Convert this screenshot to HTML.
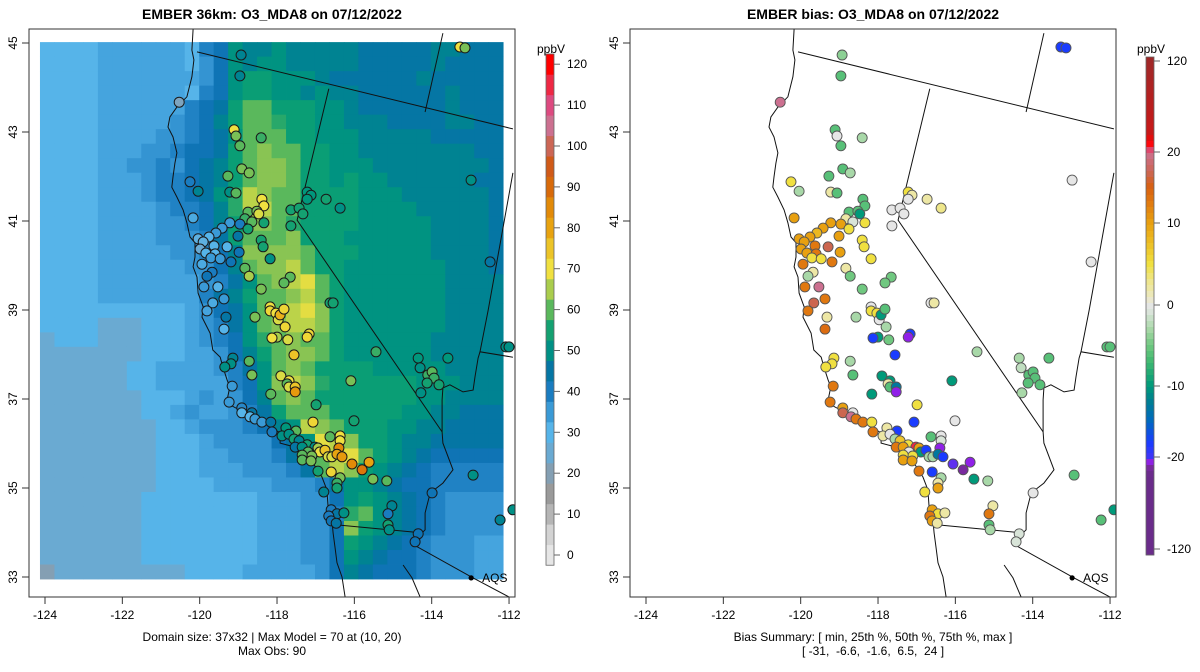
<!DOCTYPE html>
<html><head><meta charset="utf-8">
<style>
html,body{margin:0;padding:0;background:#fff;}
svg{display:block;font-family:"Liberation Sans",Arial,sans-serif;}
</style></head>
<body>
<svg id="fig" width="1200" height="672" viewBox="0 0 1200 672" xmlns="http://www.w3.org/2000/svg">
<defs>
<clipPath id="clipL"><rect x="29" y="29" width="486" height="568"/></clipPath>
<clipPath id="clipR"><rect x="630" y="29" width="486" height="568"/></clipPath>
</defs>
<text x="272" y="19" text-anchor="middle" font-size="14" font-weight="bold">EMBER 36km: O3_MDA8 on 07/12/2022</text>
<text x="873" y="19" text-anchor="middle" font-size="14" font-weight="bold">EMBER bias: O3_MDA8 on 07/12/2022</text>
<text x="272" y="641" text-anchor="middle" font-size="12">Domain size: 37x32 | Max Model = 70 at (10, 20)</text>
<text x="272" y="655" text-anchor="middle" font-size="12">Max Obs: 90</text>
<text x="873" y="641" text-anchor="middle" font-size="12">Bias Summary: [ min, 25th %, 50th %, 75th %, max ]</text>
<text x="873" y="655" text-anchor="middle" font-size="12" xml:space="preserve">[ -31,  -6.6,  -1.6,  6.5,  24 ]</text>
<text x="551" y="53" text-anchor="middle" font-size="12">ppbV</text>
<text x="1151" y="53" text-anchor="middle" font-size="12">ppbV</text>
<g id="layer"></g>
</svg>
<script>
// ---------- data ----------
const gridLon0 = -124.13, gridLat0 = 45.02, cellDLon = 0.3743, cellDLat = 0.3261;
const levelCodes = "1g23456789ABCDEF";
const levelValues = [20,25,30,33,36,39,42,45,48,51,54,57,60,63,66,69];
const gridRows = [
"22223333332569889888887777788777",
"22223333332469899888887777787777",
"22223333333469AA9998777777877777",
"22223333332569AA9989887777778777",
"2222333333567ACCAAA9987777778777",
"2222333334568ACCBAA9988877778877",
"22223333445679CCCAA9998888877777",
"2222333445667ACDCCAA998888888877",
"2222334454678ACDDCAA999888888887",
"2222333455678ACDDCAA9A9988888877",
"2222333455679BEDCCAAAA9998888887",
"2222333345568BEECCAAAA9999888887",
"2222333344568ADDCBAAAA9999988887",
"2222333344457ACCCDAAA99999988887",
"22223333344568DDDDCAAA9999988887",
"22223333334468CDDECAA99999998887",
"222233333334579CDEFCA99999998888",
"22223333333578ACCDECA99999998888",
"222222222234679CCEFDA99999998888",
"2222ggg22234579CDEEDA99999998888",
"g222ggg22234569BCDCCA99999988888",
"ggggggg22233468ACDDCA99999988888",
"gggggg2233334579CDCAAAA999998888",
"gggggg2233333569DEDBAAAAAA999888",
"ggggggg222343468CDCAAAAAAA998888",
"ggggggg223433457ACCCAAAAA9988777",
"gggggggg2234445689EDCAAA99887777",
"gggggggg22234444679FEDAA98877777",
"gggggggg22233444579CEFCA98766666",
"gggggggg22233344457CEDA987655555",
"gggggggg222233334445799876655555",
"ggggggg222222223334469A987654444",
"ggggggg22222222333445BC987654444",
"ggggggg22222222333446DA987654444",
"ggggggg22222222333446A9876544433",
"ggggggg2222222233344698766544433",
"1ggggggggg2222333334687666544433"
];
const stLon = [-118.93,-118.96,-120.53,-119.11,-119.06,-118.96,-118.41,-118.91,-118.72,-119.27,-120.25,-120.04,-119.22,-119.06,-118.39,-118.34,-117.22,-117.12,-117.22,-116.73,-116.37,-117.64,-117.43,-117.33,-117.64,-118.75,-118.52,-118.47,-118.83,-118.65,-118.34,-120.17,-119.22,-118.96,-119.42,-119.58,-119.76,-120.04,-119.91,-118.75,-119.01,-118.41,-118.36,-119.29,-119.63,-119.99,-119.84,-119.60,-119.71,-119.47,-118.98,-119.94,-119.19,-118.18,-118.83,-118.72,-119.68,-119.81,-117.66,-117.82,-119.89,-119.53,-118.41,-119.37,-119.66,-119.81,-119.32,-118.57,-118.18,-118.18,-118.03,-117.97,-117.92,-117.82,-117.79,-119.37,-116.63,-116.55,-117.17,-117.22,-118.00,-118.13,-117.72,-117.56,-118.72,-115.44,-119.14,-119.19,-119.35,-118.65,-117.90,-117.69,-117.74,-117.69,-117.53,-117.53,-116.09,-118.16,-119.16,-119.24,-116.99,-118.91,-118.65,-118.91,-118.70,-118.57,-118.39,-118.16,-117.07,-116.01,-118.13,-117.77,-117.51,-117.87,-117.69,-117.56,-117.43,-117.22,-116.63,-116.37,-116.37,-117.53,-117.35,-117.02,-116.94,-117.20,-116.89,-116.76,-116.40,-117.10,-117.35,-116.68,-116.58,-116.45,-116.32,-117.35,-117.12,-116.06,-115.80,-115.62,-116.94,-116.60,-116.37,-116.45,-116.45,-115.52,-115.16,-116.79,-115.03,-115.13,-116.60,-116.45,-116.27,-116.66,-116.60,-116.47,-115.13,-115.10,-113.27,-113.14,-112.98,-112.49,-114.35,-114.30,-114.10,-113.99,-113.94,-114.12,-113.81,-114.28,-113.58,-113.99,-114.35,-114.43,-112.93,-112.23,-112.08,-112.00,-111.90];
const stLat = [44.73,44.26,43.67,43.05,42.91,42.69,42.87,42.17,42.08,42.01,41.88,41.67,41.65,41.63,41.49,41.34,41.65,41.58,41.49,41.49,41.29,41.25,41.29,41.16,40.89,41.20,41.22,41.16,41.05,40.98,40.96,41.07,40.96,40.93,40.84,40.73,40.64,40.60,40.53,40.82,40.66,40.57,40.42,40.42,40.44,40.37,40.28,40.26,40.17,40.15,40.30,40.03,40.08,40.15,39.94,39.76,39.85,39.76,39.74,39.61,39.52,39.52,39.47,39.25,39.16,38.98,38.84,38.84,39.07,38.98,38.93,38.78,38.89,39.02,38.62,38.57,39.16,39.16,38.46,38.39,38.39,38.37,38.33,37.99,37.85,38.06,37.92,37.79,37.72,37.54,37.52,37.41,37.34,37.27,37.27,37.16,37.41,37.11,37.29,36.93,36.87,36.80,36.69,36.69,36.60,36.55,36.48,36.48,36.48,36.51,36.26,36.35,36.28,36.17,36.21,36.10,36.06,35.97,36.15,36.17,36.06,35.92,35.92,35.92,35.90,35.81,35.81,35.85,35.90,35.72,35.74,35.70,35.70,35.76,35.70,35.63,35.61,35.54,35.41,35.58,35.38,35.36,35.23,35.11,35.00,35.20,35.16,34.91,34.60,34.42,34.51,34.42,34.44,34.37,34.26,34.21,34.17,34.06,44.91,44.89,41.92,40.08,37.92,37.70,37.54,37.61,37.47,37.36,37.32,37.14,37.92,34.89,33.97,33.79,35.29,34.28,38.17,38.17,34.51];
const stObs = [48,48,22,70,62,60,58,62,62,60,40,48,50,60,70,70,52,52,52,55,50,55,55,55,55,60,62,68,58,60,55,32,35,40,35,35,30,28,28,55,45,55,55,30,30,25,30,30,35,35,42,32,42,50,60,65,40,42,60,60,35,30,62,35,32,33,45,62,70,72,70,68,78,72,72,30,55,55,72,72,65,70,68,75,60,58,48,50,50,62,68,70,60,68,75,82,62,60,35,35,55,38,45,30,30,35,35,45,72,55,40,52,60,50,50,55,48,55,60,70,70,45,50,50,65,60,70,75,85,62,60,68,68,80,82,60,62,85,88,80,55,72,62,58,55,62,60,48,48,40,40,45,50,40,42,45,55,50,70,62,50,45,52,50,58,60,58,55,55,50,52,42,42,42,50,48,50,50,50];
const stBias = [-4,-6,20,-6,0,-6,-3,-6,-3,-6,5,-3,2,-6,-6,-6,5,2,0,2,3,0,0,0,0,-6,-6,-10,2,-1,5,10,10,10,10,8,10,10,10,5,10,5,5,17,13,10,10,13,5,5,10,13,13,5,2,-5,2,-3,-5,-5,13,20,-5,13,17,13,2,-3,0,5,5,0,-10,-6,-3,14,0,2,-18,-25,-10,-18,-5,-18,-3,-3,5,5,5,-6,-10,-10,2,-6,-13,-25,-10,-10,13,13,5,10,0,17,20,13,13,5,-18,0,13,2,-18,2,0,-3,7,5,-6,0,-1,13,10,24,10,0,-10,-18,-25,5,5,-3,-3,-13,-18,10,10,-22,-31,-25,13,-18,-3,2,10,-10,-3,5,2,13,10,5,2,13,10,2,-6,-3,-18,-18,0,0,-3,-2,-6,-6,-6,-6,-6,-3,-6,0,-1,-1,-6,-6,-6,-6,-10];
const coastLon = [-120.17,-120.20,-120.15,-120.20,-120.33,-120.59,-120.77,-120.82,-120.69,-120.59,-120.64,-120.69,-120.72,-120.59,-120.43,-120.33,-120.25,-120.12,-120.12,-120.17,-120.07,-120.04,-119.91,-119.94,-119.73,-119.66,-119.47,-119.40,-119.29,-119.22,-119.29,-119.22,-118.96,-118.78,-118.36,-117.92,-117.92,-117.53,-117.41,-117.07,-116.84,-116.71,-116.68,-116.58,-116.55,-116.50,-116.45,-116.32,-116.24];
const coastLat = [45.31,44.84,44.62,44.24,43.79,43.56,43.34,43.11,42.89,42.53,42.30,41.99,41.76,41.54,41.25,40.96,40.64,40.51,40.19,39.97,39.74,39.38,39.07,38.84,38.48,38.10,37.94,37.72,37.43,37.27,36.98,36.87,36.75,36.60,36.46,36.24,36.01,35.92,35.79,35.56,35.25,34.96,34.57,34.28,33.99,33.67,33.32,33.00,32.55];
const borderLines = [
 {name:"northern-border", lon:[-120.07,-111.90], lat:[44.80,43.07]},
 {name:"idaho-border", lon:[-113.71,-114.17], lat:[45.22,43.45]},
 {name:"nevada-border", lon:[-116.66,-117.48,-113.73], lat:[43.97,41.02,36.26]},
 {name:"utah-arizona-border", lon:[-111.90,-112.54,-112.75,-111.90], lat:[42.08,39.00,38.06,37.94]},
 {name:"colorado-river", lon:[-112.75,-112.80,-112.88,-112.93,-113.19,-113.53,-113.71,-113.73,-113.73,-113.71,-113.45,-113.71,-114.04,-114.17,-114.17,-114.25,-114.38,-112.93,-111.72], lat:[38.06,37.92,37.50,37.20,37.16,37.32,37.25,36.98,36.26,36.01,35.41,35.11,34.89,34.44,34.06,33.99,33.68,32.98,32.42]},
 {name:"mexico-border", lon:[-116.45,-114.25], lat:[34.17,33.99]},
 {name:"gulf-coast", lon:[-114.74,-114.51,-114.30], lat:[33.27,32.98,32.55]}
];
const aqsLon = -112.98, aqsLat = 32.98;
const xTicks = [-124,-122,-120,-118,-116,-114,-112];
const yTicks = [33,35,37,39,41,43,45];
const obsTicks = [0,10,20,30,40,50,60,70,80,90,100,110,120];
const biasTicks = [120,20,10,0,-10,-20,-120];
const biasTickY = [61,152,223,305,386,457,549];

// ---------- scales ----------
const NS="http://www.w3.org/2000/svg";
const layer=document.getElementById('layer');
function xS(lon,off){return 45+(lon+124)*38.67+off;}
function yS(lat){return 43+(45-lat)*44.5;}
function el(tag,attrs,parent){const e=document.createElementNS(NS,tag);for(const k in attrs)e.setAttribute(k,attrs[k]);(parent||layer).appendChild(e);return e;}
function hex(c){return [parseInt(c.substr(1,2),16),parseInt(c.substr(3,2),16),parseInt(c.substr(5,2),16)];}
function interp(stops,v){
 if(v<=stops[0][0])return stops[0][1];
 if(v>=stops[stops.length-1][0])return stops[stops.length-1][1];
 for(let i=0;i<stops.length-1;i++){const a=stops[i],b=stops[i+1];if(v>=a[0]&&v<=b[0]){const t=(v-a[0])/(b[0]-a[0]);const A=hex(a[1]),B=hex(b[1]);return 'rgb('+A.map((x,j)=>Math.round(x+(B[j]-x)*t)).join(',')+')';}}
}
const obsStops=[[0,'#e6e6e6'],[5,'#d3d3d3'],[10,'#b5b5b5'],[15,'#9a9a9a'],[18,'#8a9aa8'],[22,'#7ea4be'],[25,'#6aaad2'],[30,'#56b4e9'],[35,'#3a9ad6'],[40,'#1a7cc0'],[43,'#0a70b0'],[47,'#007c98'],[50,'#009085'],[53,'#009a78'],[57,'#28a86a'],[60,'#5ab85c'],[64,'#98c850'],[67,'#cdd846'],[70,'#f0e040'],[75,'#ecc428'],[80,'#e8a310'],[85,'#e28a08'],[90,'#d86a0a'],[95,'#d05a18'],[100,'#cc6655'],[105,'#cc7090'],[110,'#dd4a80'],[115,'#ee2844'],[120,'#ff0000']];
const biasStops=[[-40,'#6a2c8a'],[-30,'#7a2aa0'],[-25,'#9020e8'],[-22,'#6030f0'],[-18,'#1a3cff'],[-15,'#0068c0'],[-12,'#008090'],[-10,'#009a7a'],[-7,'#40b870'],[-5,'#70c880'],[-3,'#a8d8a8'],[-1,'#d8e4d8'],[0,'#e6e6e6'],[1,'#ece8c0'],[3,'#eee68a'],[5,'#f0e040'],[8,'#ecb820'],[10,'#e8a010'],[13,'#e07810'],[15,'#d86010'],[17,'#cc6650'],[20,'#cc7090'],[22,'#dd4a70'],[24,'#ee2844'],[30,'#ff0000'],[40,'#c81818'],[120,'#a02828']];
function obsColor(v){return interp(obsStops,v);}
function biasColor(v){return interp(biasStops,v);}

// ---------- grid ----------
const gGrid=el('g',{'clip-path':'url(#clipL)'});


gridRows.forEach((row,r)=>{
 for(let c=0;c<32;c++){
  const ch=row[c]||row[row.length-1];
  const v=levelValues[levelCodes.indexOf(ch)];
  const lon0=gridLon0+c*cellDLon, lat0=gridLat0-r*cellDLat;
  const x0=xS(lon0,0), x1=xS(lon0+cellDLon,0), y0=yS(lat0), y1=yS(lat0-cellDLat);
  const rc=el('rect',{x:x0.toFixed(2),y:y0.toFixed(2),width:(x1-x0+0.4).toFixed(2),height:(y1-y0+0.4).toFixed(2),fill:obsColor(v)},gGrid);
  
  
 }
});

// ---------- maps ----------
function drawMap(off,clip,prefix){
 const g=el('g',{'clip-path':'url(#'+clip+')',fill:'none',stroke:'#111','stroke-width':'1'});
 
 
 const cp=el('polyline',{points:coastLon.map((l,i)=>xS(l,off).toFixed(1)+','+yS(coastLat[i]).toFixed(1)).join(' ')},g);
 
 
 borderLines.forEach(b=>{
  const p=el('polyline',{points:b.lon.map((l,i)=>xS(l,off).toFixed(1)+','+yS(b.lat[i]).toFixed(1)).join(' ')},g);
  
  
 });
 const d=el('circle',{cx:xS(aqsLon,off),cy:yS(aqsLat),r:2.6,fill:'#000',stroke:'none'},g);
 
 
 const t=el('text',{x:xS(aqsLon,off)+11,y:yS(aqsLat)+4,'font-size':'12',fill:'#000',stroke:'none'});
 t.textContent='AQS';
 
 
}
drawMap(0,'clipL','left');
drawMap(601,'clipR','right');

// ---------- stations ----------
const gObs=el('g',{'clip-path':'url(#clipL)'});


const gBias=el('g',{'clip-path':'url(#clipR)'});


stLon.forEach((lon,i)=>{
 const a=el('circle',{cx:xS(lon,0).toFixed(1),cy:yS(stLat[i]).toFixed(1),r:5,fill:obsColor(stObs[i]),stroke:'#1a1a1a','stroke-width':'1'},gObs);
 
 
 const b=el('circle',{cx:xS(lon,601).toFixed(1),cy:yS(stLat[i]).toFixed(1),r:5,fill:biasColor(stBias[i]),stroke:'#555','stroke-width':'0.9'},gBias);
 
 
});

// ---------- axes ----------
function drawAxes(off,prefix){
 const box=el('rect',{x:29+off,y:29,width:486,height:568,fill:'none',stroke:'#333','stroke-width':'1'});
 
 
 xTicks.forEach(t=>{
  const x=xS(t,off);
  const l=el('line',{x1:x,x2:x,y1:597,y2:604,stroke:'#333'});
  
  
  const tx=el('text',{x:x,y:619,'text-anchor':'middle','font-size':'12'});
  tx.textContent=String(t);
  
  
 });
 yTicks.forEach(t=>{
  const y=yS(t);
  const l=el('line',{x1:29+off,x2:22+off,y1:y,y2:y,stroke:'#333'});
  
  
  const tx=el('text',{x:0,y:0,'text-anchor':'middle','font-size':'12',transform:'translate('+(17+off)+','+y+') rotate(-90)'});
  tx.textContent=t;
  
  
 });
}
drawAxes(0,'left');
drawAxes(601,'right');

// ---------- colorbars ----------
function cbObsY(v){return 555-v*4.09;}
const gCB1=el('g',{});


for(let v=0;v<=120;v+=5){
 const r=el('rect',{x:546,y:cbObsY(v+2.5),width:8,height:(5*4.09+0.3),fill:obsColor(v)},gCB1);
 
 
}
el('rect',{x:546,y:cbObsY(122.5),width:8,height:125*4.09,fill:'none',stroke:'#666','stroke-width':'0.8'},gCB1);
obsTicks.forEach(t=>{
 const y=cbObsY(t);
 el('line',{x1:554,x2:560,y1:y,y2:y,stroke:'#666'},gCB1);
 const tx=el('text',{x:567,y:y+4,'font-size':'12'},gCB1);
 tx.textContent=t;
 
 
});
function biasAtY(y){
 for(let i=0;i<biasTickY.length-1;i++){const y0=biasTickY[i],y1=biasTickY[i+1];if(y>=y0&&y<=y1){return biasTicks[i]+(biasTicks[i+1]-biasTicks[i])*(y-y0)/(y1-y0);}}
 return y<biasTickY[0]?biasTicks[0]:biasTicks[biasTicks.length-1];
}
const gCB2=el('g',{});


for(let y=57;y<555;y+=6){
 const r=el('rect',{x:1146,y:y,width:8,height:6.3,fill:biasColor(biasAtY(y+3))},gCB2);
 
 
}
el('rect',{x:1146,y:57,width:8,height:498,fill:'none',stroke:'#666','stroke-width':'0.8'},gCB2);
biasTicks.forEach((t,i)=>{
 const y=biasTickY[i];
 el('line',{x1:1154,x2:1160,y1:y,y2:y,stroke:'#666'},gCB2);
 const tx=el('text',{x:1167,y:y+4,'font-size':'12'},gCB2);
 tx.textContent=t;
 
 
});
</script>
</body></html>
